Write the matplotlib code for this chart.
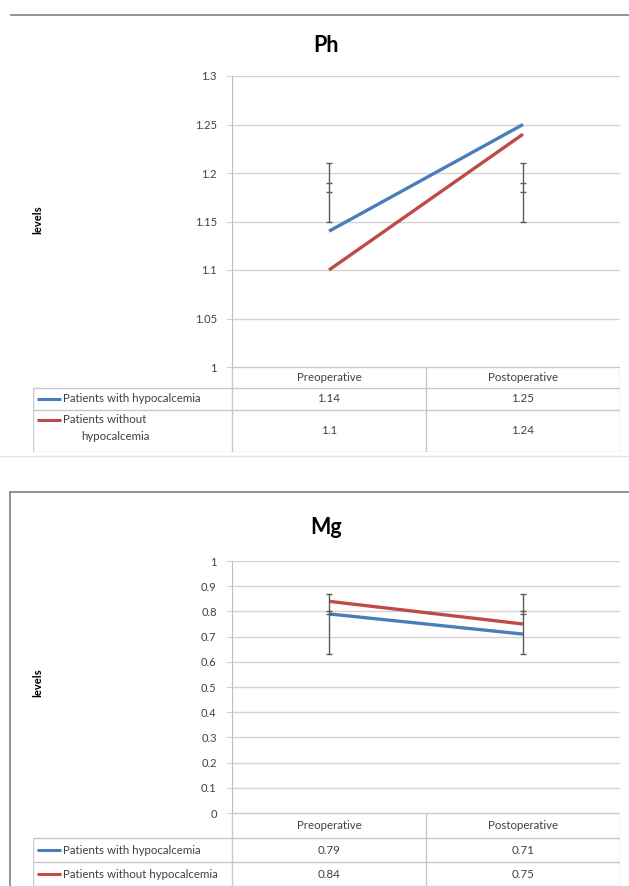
import matplotlib
matplotlib.use("Agg")
import matplotlib.pyplot as plt
from matplotlib.lines import Line2D
from matplotlib.patches import Rectangle

plt.rcParams['font.family'] = ['Lato', 'DejaVu Sans']

# ---------------- data ----------------
categories = ["Preoperative", "Postoperative"]
series_names = ["Patients with hypocalcemia", "Patients without hypocalcemia"]
ph_table_names = ["Patients with hypocalcemia", "Patients without\nhypocalcemia"]

ph_with = [1.14, 1.25]
ph_without = [1.10, 1.24]
ph_err_low = [1.15, 1.15]
ph_err_high = [1.21, 1.21]
ph_err_mid = [[1.19, 1.18], [1.19, 1.18]]
ph_ticks = [1.0, 1.05, 1.1, 1.15, 1.2, 1.25, 1.3]
ph_ticklabels = ["1", "1.05", "1.1", "1.15", "1.2", "1.25", "1.3"]

mg_with = [0.79, 0.71]
mg_without = [0.84, 0.75]
mg_err_low = [0.63, 0.63]
mg_err_high = [0.87, 0.87]
mg_err_mid = [[0.80, 0.79], [0.80, 0.79]]
mg_ticks = [0, 0.1, 0.2, 0.3, 0.4, 0.5, 0.6, 0.7, 0.8, 0.9, 1.0]
mg_ticklabels = ["0", "0.1", "0.2", "0.3", "0.4", "0.5", "0.6", "0.7", "0.8", "0.9", "1"]

BLUE = "#4a7ebb"
RED = "#be4b48"
GRID = "#d4d4d4"
TXT = "#404040"
FS = 8.3

W, H = 629, 886
fig = plt.figure(figsize=(W / 100, H / 100), dpi=100)


def fx(x):
    return x / W


def fy(y):
    return 1 - y / H


def add_px_axes(x0, y0, x1, y1):
    return fig.add_axes([fx(x0), fy(y1), fx(x1) - fx(x0), fy(y0) - fy(y1)])


def panel(title, title_y, ylab_y, ax_top, ax_bot, ylim, ticks, ticklabels,
          s_with, s_without, e_low, e_high, e_mid, row_bounds, names):
    ax = add_px_axes(232, ax_top, 620, ax_bot)
    ax.set_xlim(-0.5, 1.5)
    ax.set_ylim(*ylim)
    xs = list(range(len(categories)))
    for t in ticks:
        ax.axhline(t, color=GRID, lw=1.0, zorder=0)
    ax.plot(xs, s_with, color=BLUE, lw=2.4, solid_capstyle='butt', zorder=3)
    ax.plot(xs, s_without, color=RED, lw=2.4, solid_capstyle='butt', zorder=3)
    ax.vlines(xs, e_low, e_high, color="#5a5a5a", lw=1.0, zorder=4)
    cw = 0.018
    for i in xs:
        for v in [e_low[i], e_high[i]] + list(e_mid[i]):
            ax.hlines(v, i - cw, i + cw, color="#5a5a5a", lw=1.0, zorder=4)
    ax.set_yticks(ticks)
    ax.set_yticklabels(ticklabels, fontsize=8, color=TXT)
    ax.tick_params(axis='y', length=4, color=GRID, pad=7, direction='out')
    ax.set_xticks([])
    for s in ["top", "right", "bottom"]:
        ax.spines[s].set_visible(False)
    ax.spines["left"].set_color("#bfbfbf")
    ax.patch.set_alpha(0)

    fig.text(fx(326), fy(title_y), title, fontsize=15.5, fontweight='bold',
             ha='center', va='center', color="#000000")
    fig.text(fx(38), fy(ylab_y), "levels", fontsize=8, fontweight='bold',
             rotation=90, ha='center', va='center', color="#000000")

    # data table
    top = row_bounds[0]
    bot = row_bounds[-1]
    tax = add_px_axes(33, top, 620, bot)
    tax.set_xlim(33, 620)
    tax.set_ylim(bot, top)
    tax.axis('off')
    lc = "#c8c8c8"
    tax.hlines(row_bounds[0], 232, 620, color=lc, lw=1.0)
    for yb in row_bounds[1:]:
        tax.hlines(yb, 33, 620, color=lc, lw=1.0)
    tax.vlines([232, 426, 620], row_bounds[0], bot, color=lc, lw=1.0)
    tax.vlines(33, row_bounds[1], bot, color=lc, lw=1.0)
    col_c = [329, 523]
    hy = (row_bounds[0] + row_bounds[1]) / 2
    for c, cat in zip(col_c, categories):
        tax.text(c, hy, cat, ha='center', va='center', fontsize=FS, color=TXT)
    rows = [s_with, s_without]
    colors = [BLUE, RED]
    for r in range(2):
        ym = (row_bounds[r + 1] + row_bounds[r + 2]) / 2
        for c, v in zip(col_c, rows[r]):
            tax.text(c, ym, f"{v:g}", ha='center', va='center', fontsize=FS, color=TXT)
        name = names[r]
        if "\n" in name:
            first, second = name.split("\n")
            ly = row_bounds[r + 1] + 10
            tax.plot([37, 61], [ly, ly], color=colors[r], lw=2.2, solid_capstyle='butt')
            tax.text(63, ly, first, ha='left', va='center', fontsize=FS, color=TXT)
            tax.text(115, ly + 17, second, ha='center', va='center', fontsize=FS, color=TXT)
        else:
            tax.plot([37, 61], [ym, ym], color=colors[r], lw=2.2, solid_capstyle='butt')
            tax.text(63, ym, name, ha='left', va='center', fontsize=FS, color=TXT)
    return ax


# panel frames
fig.add_artist(Line2D([fx(11), fx(629)], [fy(15), fy(15)], color="#7f7f7f", lw=1.2))
fig.add_artist(Line2D([fx(0), fx(629)], [fy(456), fy(456)], color="#e6e6e6", lw=1.0))
fig.add_artist(Rectangle((fx(10), fy(900)), fx(700) - fx(10), fy(492) - fy(900),
                         fill=False, edgecolor="#7f7f7f", lw=1.2))

panel("Ph", 45, 220, 76, 367, (1.0, 1.3), ph_ticks, ph_ticklabels,
      ph_with, ph_without, ph_err_low, ph_err_high, ph_err_mid,
      [367, 388, 410, 452], ph_table_names)

panel("Mg", 527, 683, 561, 813, (0.0, 1.0), mg_ticks, mg_ticklabels,
      mg_with, mg_without, mg_err_low, mg_err_high, mg_err_mid,
      [813, 838, 862, 886], series_names)

fig.savefig("out.png", dpi=100)
